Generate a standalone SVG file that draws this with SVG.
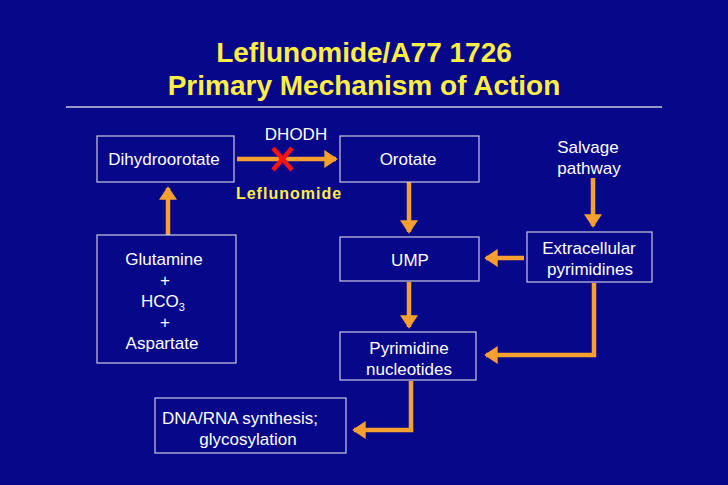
<svg xmlns="http://www.w3.org/2000/svg" width="728" height="485" viewBox="0 0 728 485">
<defs>
<marker id="ah" markerWidth="4" markerHeight="4" refX="2.6" refY="2" orient="auto"><path d="M0,0 L3,2 L0,4 z" fill="#F7A030"/></marker>
<style>
.box{fill:none;stroke:#C8C8E0;stroke-width:1.2}
.t{font-family:"Liberation Sans",Arial,sans-serif;font-size:17px;fill:#fff;text-anchor:middle}
.c{fill:none;stroke:#F7A030;stroke-width:4.5;marker-end:url(#ah)}
</style>
</defs>
<rect width="728" height="485" fill="#07078A"/>
<g id="title" font-family="Liberation Sans,Arial,sans-serif" font-weight="bold" font-size="28" fill="#FFEE44" text-anchor="middle">
<text x="364" y="62">Leflunomide/A77 1726</text>
<text x="364" y="95">Primary Mechanism of Action</text>
</g>
<line x1="66" y1="107" x2="662" y2="107" stroke="#C8C8E0" stroke-width="1.5"/>
<g id="connectors">
<line class="c" x1="237" y1="159" x2="336" y2="159"/>
<line class="c" x1="168" y1="235" x2="168" y2="188"/>
<line class="c" x1="409" y1="182" x2="409" y2="232"/>
<line class="c" x1="593" y1="178" x2="593" y2="226"/>
<line class="c" x1="524" y1="258" x2="486" y2="258"/>
<line class="c" x1="409" y1="282" x2="409" y2="327"/>
<polyline class="c" points="594,283 594,355 486,355"/>
<polyline class="c" points="411,381 411,430 354,430"/>
</g>
<g id="block" stroke="#FF1111" stroke-width="4.5"><line x1="273" y1="148" x2="292" y2="170"/><line x1="292" y1="148" x2="273" y2="170"/></g>
<text x="296" y="140" class="t">DHODH</text>
<text x="289" y="199" font-family="Liberation Sans,Arial,sans-serif" font-weight="bold" font-size="16" letter-spacing="1" fill="#FFEE44" text-anchor="middle">Leflunomide</text>
<g id="dihydroorotate"><rect class="box" x="97" y="136" width="137" height="46"/><text class="t" x="164" y="165">Dihydroorotate</text></g>
<g id="orotate"><rect class="box" x="340" y="136" width="139" height="46"/><text class="t" x="408" y="165">Orotate</text></g>
<g id="glutamine"><rect class="box" x="97" y="235" width="139" height="128"/>
<text class="t" x="164" y="265">Glutamine</text><text class="t" x="165" y="286">+</text>
<text class="t" x="163" y="307">HCO<tspan font-size="11" dy="4">3</tspan></text><text class="t" x="165" y="328">+</text>
<text class="t" x="162" y="349">Aspartate</text></g>
<g id="ump"><rect class="box" x="340" y="237" width="139" height="44"/><text class="t" x="410" y="266">UMP</text></g>
<g id="salvage"><text class="t" x="588" y="153">Salvage</text><text class="t" x="589" y="174">pathway</text></g>
<g id="extracellular"><rect class="box" x="527" y="232" width="125" height="50"/><text class="t" x="589" y="254">Extracellular</text><text class="t" x="590" y="275">pyrimidines</text></g>
<g id="pyrimidine"><rect class="box" x="340" y="332" width="136" height="48"/><text class="t" x="409" y="354">Pyrimidine</text><text class="t" x="409" y="375">nucleotides</text></g>
<g id="dna"><rect class="box" x="155" y="398" width="191" height="55"/><text class="t" x="240" y="424">DNA/RNA synthesis;</text><text class="t" x="248" y="445">glycosylation</text></g>
</svg>
